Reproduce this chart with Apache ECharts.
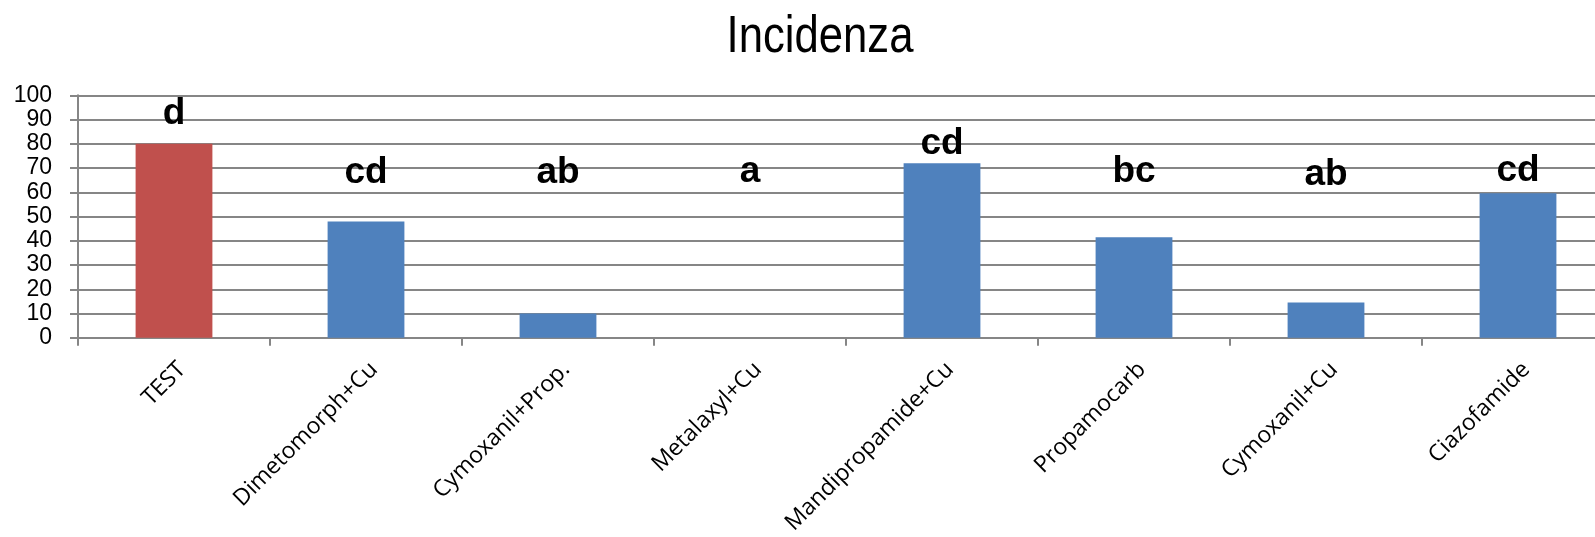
<!DOCTYPE html>
<html>
<head>
<meta charset="utf-8">
<script src="https://cdn.jsdelivr.net/npm/echarts@6/dist/echarts.min.js"></script>
<style>
html,body{margin:0;padding:0;background:#fff;overflow:hidden;width:1595px;height:537px;}
#chart{width:1640px;height:537px;}
</style>
</head>
<body>
<div id="chart"></div>
<script>
var titleText = 'Incidenza';
var categories = ['TEST','Dimetomorph+Cu','Cymoxanil+Prop.','Metalaxyl+Cu','Mandipropamide+Cu','Propamocarb','Cymoxanil+Cu','Ciazofamide'];
var incidenza = [80, 48, 10, 0, 72, 41.5, 14.6, 59.6];
var letters = ['d','cd','ab','a','cd','bc','ab','cd'];
var letterLevels = [92.2, 68.2, 68.1, 68.6, 80, 68.6, 67.2, 68.9];
var yTicks = [0,10,20,30,40,50,60,70,80,90,100];

var chart = echarts.init(document.getElementById('chart'));
var barData = incidenza.map(function(v,i){
  return {value:v, itemStyle:{color: i===0 ? '#C0504D' : '#4F81BD'}};
});
var letterData = letterLevels.map(function(v,i){ return {value:[i, v], name: letters[i]}; });

chart.setOption({
  animation:false,
  graphic:[{
    type:'text', x:820, y:12, scaleX:0.84, silent:true,
    style:{text:titleText, align:'center', verticalAlign:'top', fill:'#000',
      font:'normal 52px "Liberation Sans", Arial, sans-serif'}
  }],
  grid:{left:78, top:95.3, width:1536, height:244.7, containLabel:false},
  xAxis:{
    type:'category',
    data:categories,
    boundaryGap:true,
    axisLine:{show:true, lineStyle:{color:'#868686', width:2}},
    axisTick:{show:true, alignWithLabel:false, length:8, lineStyle:{color:'#868686', width:2}},
    axisLabel:{interval:0, rotate:45, margin:20, verticalAlign:'top', color:'#000', fontSize:23, fontFamily:'"Open Sans","Noto Sans",sans-serif'},
    splitLine:{show:false}
  },
  yAxis:{
    type:'value',
    min:0, max:100, interval:10,
    axisLine:{show:true, lineStyle:{color:'#868686', width:2}},
    axisTick:{show:true, length:8, lineStyle:{color:'#868686', width:2}},
    axisLabel:{margin:26, color:'#000', fontSize:23, fontFamily:'"Liberation Sans",Arial,sans-serif',
      formatter:function(v){ return yTicks.indexOf(v) >= 0 ? String(v) : ''; }},
    splitLine:{show:true, lineStyle:{color:'#868686', width:2}}
  },
  series:[
    {type:'bar', data:barData, barWidth:'40%'},
    {type:'scatter', data:letterData, symbolSize:0, silent:true, itemStyle:{opacity:1},
      label:{show:true, position:'inside', formatter:function(p){return p.name;},
        color:'#000000', textBorderWidth:0, fontSize:37, fontWeight:'bold', fontFamily:'"Liberation Sans",Arial,sans-serif'}}
  ]
});
</script>
</body>
</html>
